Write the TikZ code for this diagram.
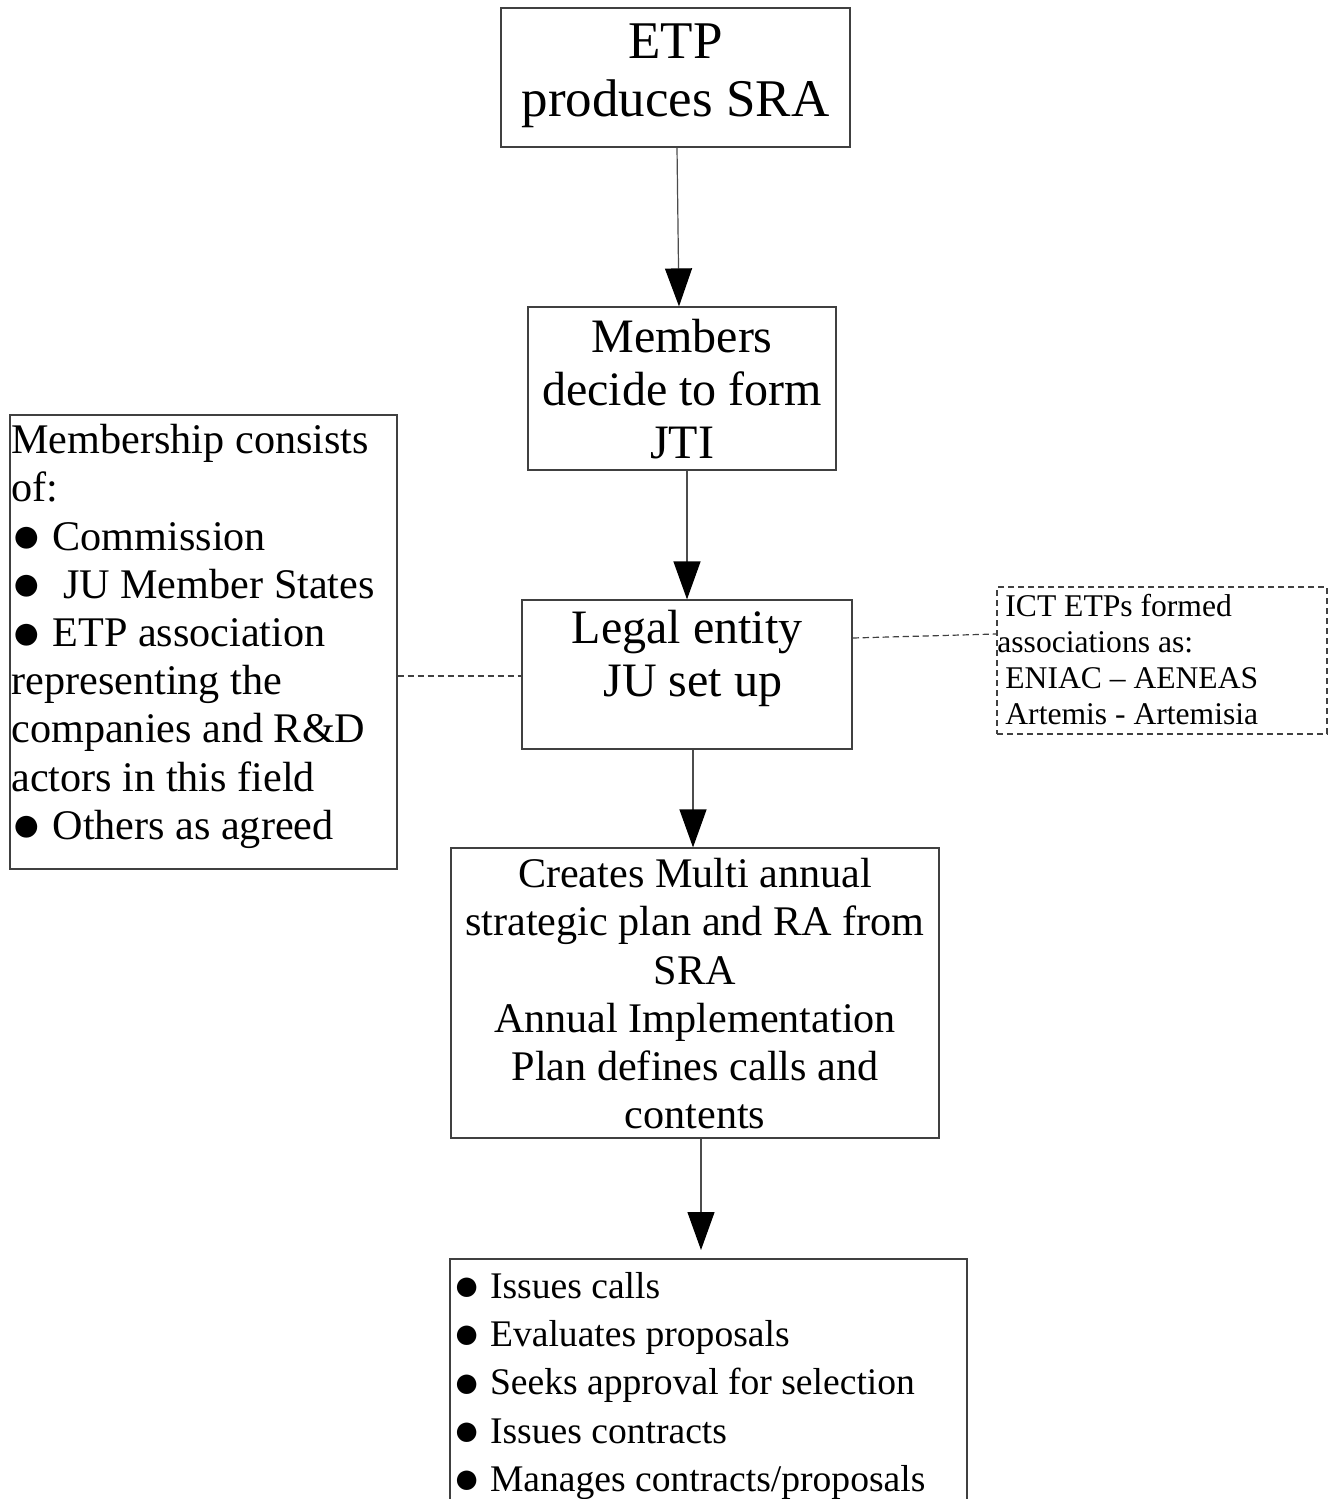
\documentclass[tikz,border=0pt]{standalone}
\usepackage{fontspec}
\usepackage{graphicx}
\setmainfont{Liberation Serif}
\usetikzlibrary{arrows.meta,calc}
\newcommand\mybul{\raisebox{-0.06em}{\scalebox{1.2}{●}}}
\tikzset{
  box/.style={draw=black!75, line width=0.6pt, inner sep=0pt, rectangle},
  dbox/.style={box, dash pattern=on 3.2pt off 1.8pt},
  txt/.style={inner sep=0pt, anchor=north},
  big/.style={font=\fontsize{26.5}{29}\selectfont},
  mid/.style={font=\fontsize{24}{26.5}\selectfont},
  small/.style={font=\fontsize{21.1}{24.1}\selectfont},
  smaller/.style={font=\fontsize{18.8}{24.1}\selectfont},
  tiny/.style={font=\fontsize{15.8}{18}\selectfont},
  arr/.style={draw=black!70, line width=0.6pt, -{Triangle[length=19pt,width=13.5pt,color=black]}},
  dline/.style={draw=black!75, line width=0.6pt, dash pattern=on 3.2pt off 1.8pt},
}
\begin{document}
\begin{tikzpicture}[x=0.5pt,y=-0.5pt]
\clip (0,0) rectangle (1331,1499);
\fill[white] (0,0) rectangle (1331,1499);
% boxes
\node[box, minimum width=174.5pt, minimum height=69.5pt] (etp) at (675.5,77.5) {};
\node[box, minimum width=154pt, minimum height=81.5pt] (mem) at (682,388.5) {};
\node[box, minimum width=165pt, minimum height=74.5pt] (legal) at (687,674.5) {};
\node[box, minimum width=193.5pt, minimum height=227pt] (left) at (203.5,642) {};
\node[box, minimum width=244pt, minimum height=145pt] (creates) at (695,993) {};
\node[box, minimum width=258.5pt, minimum height=135pt] (issues) at (708.5,1394) {};
\node[dbox, minimum width=165pt, minimum height=73.5pt] (ict) at (1162,660.5) {};
% texts
\node[txt, big, align=center] (etpT) at (675.5,23) {ETP\\produces SRA};
\node[txt, mid, align=center] (memT) at (682,319) {Members\\decide to form\\JTI};
\node[txt, mid, align=center] (legalT) at (687,610) {Legal entity\\\ JU set up};
\node[txt, small, align=left, anchor=north west] (leftT) at (11,424) {Membership consists\\of:\\\mybul{} Commission\\\mybul{} \ JU Member States\\\mybul{} ETP association\\representing the\\companies and R\&D\\actors in this field\\\mybul{} Others as agreed};
\node[txt, small, align=center] (createsT) at (695,858) {Creates Multi annual\\strategic plan and RA from\\SRA\\Annual Implementation\\Plan defines calls and\\contents};
\node[txt, smaller, align=left, anchor=north west] (issuesT) at (453,1272) {\mybul{} Issues calls\\\mybul{} Evaluates proposals\\\mybul{} Seeks approval for selection\\\mybul{} Issues contracts\\\mybul{} Manages contracts/proposals};
\node[txt, tiny, align=left, anchor=north west] (ictT) at (1005,594) {ICT ETPs formed\\\hspace*{-4pt}associations as:\\ENIAC – AENEAS\\Artemis - Artemisia};
% connectors
\coordinate (a1s) at (677,147);
\coordinate (a1e) at (679,307);
\draw[arr] (etp.south -| a1s) -- (mem.north -| a1e);
\draw[arr] ($(mem.south)+(5,0)$) -- (legal.north);
\draw[arr] ($(legal.south)+(6,0)$) -- ($(creates.north)+(-2,0)$);
\coordinate (a4e) at (701,1250);
\draw[arr] (creates.south -| a4e) -- (a4e);
\coordinate (d1) at (0,676);
\draw[dline] (left.east |- d1) -- (legal.west |- d1);
\coordinate (d2s) at (852,638);
\coordinate (d2e) at (997,634);
\draw[dline] (legal.east |- d2s) -- (ict.west |- d2e);
\end{tikzpicture}
\end{document}
